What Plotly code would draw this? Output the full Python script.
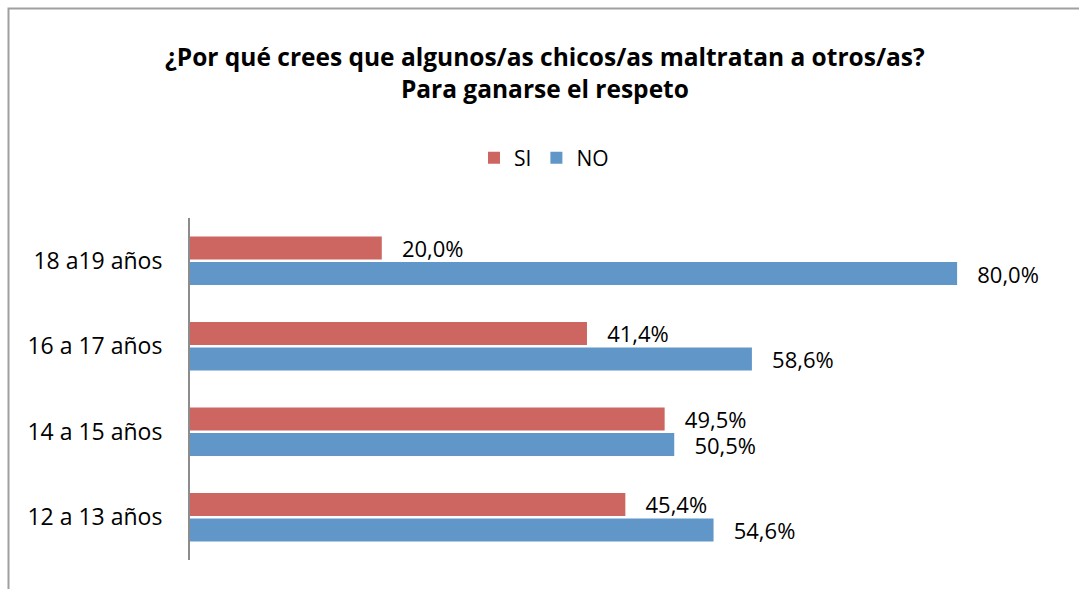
import plotly.graph_objects as go

# Age groups (bottom to top) and the share of answers per group
categories = ["12 a 13 años", "14 a 15 años", "16 a 17 años", "18 a19 años"]
si_values = [45.4, 49.5, 41.4, 20.0]
no_values = [54.6, 50.5, 58.6, 80.0]

FONT = "Open Sans"
RED = "#CD6660"
BLUE = "#6096C8"
LABEL = "\u00a0\u00a0\u00a0%{x:.1f}%"

fig = go.Figure()

# NO is added first so that it sits below SI inside each group
fig.add_trace(go.Bar(
    y=categories, x=no_values, name="NO", orientation="h",
    marker=dict(color=BLUE, line=dict(width=0)),
    texttemplate=LABEL, textposition="outside", constraintext="none",
    textfont=dict(family=FONT, size=22, color="#000000"),
    cliponaxis=False, legendrank=2,
))
fig.add_trace(go.Bar(
    y=categories, x=si_values, name="SI", orientation="h",
    marker=dict(color=RED, line=dict(width=0)),
    texttemplate=LABEL, textposition="outside", constraintext="none",
    textfont=dict(family=FONT, size=22, color="#000000"),
    cliponaxis=False, legendrank=1,
))

fig.update_layout(
    width=1079, height=589,
    margin=dict(l=190, r=26, t=218, b=29),
    paper_bgcolor="white", plot_bgcolor="white",
    separators=",.",
    barmode="group", bargap=0.4, bargroupgap=0.1,
    font=dict(family=FONT, size=21, color="#000000"),
    title=dict(
        text="<b>¿Por qué crees que algunos/as chicos/as maltratan a otros/as?<br>Para ganarse el respeto</b>",
        x=0.505, xanchor="center", xref="container",
        y=1 - 66 / 589, yanchor="middle", yref="container",
        font=dict(family=FONT, size=24.5, color="#000000"),
    ),
    legend=dict(
        orientation="h", xref="container", yref="container",
        x=544 / 1079, xanchor="center", y=1 - 158 / 589, yanchor="middle",
        font=dict(family=FONT, size=21), itemwidth=30,
        traceorder="normal",
    ),
    xaxis=dict(range=[0, 90], visible=False, fixedrange=True),
    yaxis=dict(
        showline=True, linecolor="#8C8C8C", linewidth=2,
        showgrid=False, ticks="", ticklabelstandoff=21,
        tickfont=dict(family=FONT, size=23, color="#000000"),
    ),
    shapes=[dict(
        type="rect", xref="paper", yref="paper",
        x0=(8.5 - 190) / 863, x1=1.2, y0=-0.2, y1=(560 - 8.5) / 342,
        line=dict(color="#A0A0A0", width=2), fillcolor="rgba(0,0,0,0)",
        layer="below",
    )],
)

fig.write_html("out.html")
